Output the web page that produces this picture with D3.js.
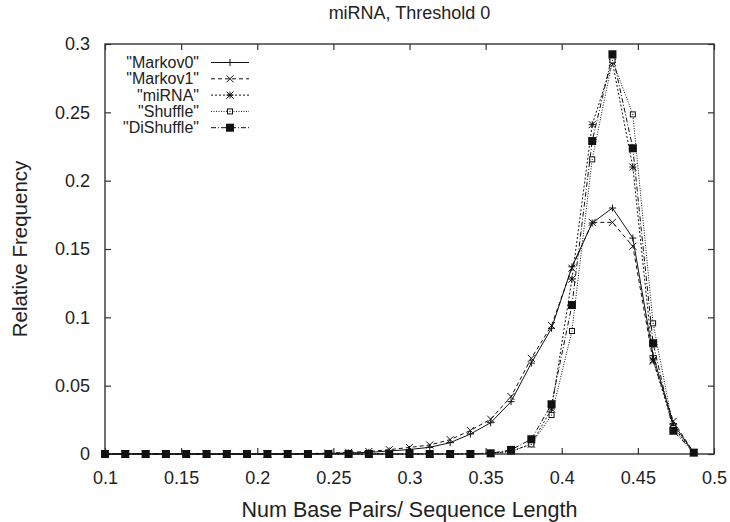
<!DOCTYPE html>
<html>
<head>
<meta charset="utf-8">
<script src="https://cdn.jsdelivr.net/npm/d3@7"></script>
<style>
  body { margin: 0; background: #fff; }
  svg { font-family: "Liberation Sans", Arial, sans-serif; }
</style>
</head>
<body>
<div id="chart"></div>
<script>
// bin centres (num base pairs / sequence length)
const xValues = [0.1000, 0.1133, 0.1267, 0.1400, 0.1533, 0.1667, 0.1800, 0.1933, 0.2067, 0.2200,
                 0.2333, 0.2467, 0.2600, 0.2733, 0.2867, 0.3000, 0.3133, 0.3267, 0.3400, 0.3533,
                 0.3667, 0.3800, 0.3933, 0.4067, 0.4200, 0.4333, 0.4467, 0.4600, 0.4733, 0.4867];

const markov0 = [0, 0, 0, 0, 0, 0, 0, 0, 0, 0,
                 0.0002, 0.0004, 0.0008, 0.0012, 0.0022, 0.0033, 0.0049, 0.0083, 0.0146, 0.0229,
                 0.0383, 0.0665, 0.092, 0.137, 0.169, 0.180, 0.158, 0.072, 0.022, 0.001];
const markov1 = [0, 0, 0, 0, 0, 0, 0, 0, 0, 0,
                 0.0003, 0.0006, 0.0012, 0.0018, 0.0032, 0.0048, 0.0066, 0.0105, 0.0172, 0.0255,
                 0.042, 0.070, 0.094, 0.136, 0.1695, 0.1695, 0.152, 0.068, 0.024, 0.001];
const mirna = [0, 0, 0, 0, 0, 0, 0, 0, 0, 0,
               0, 0, 0, 0, 0, 0, 0, 0, 0.0002, 0.0006,
               0.002, 0.0073, 0.033, 0.128, 0.241, 0.2866, 0.210, 0.0688, 0.020, 0.001];
const shuffle = [0, 0, 0, 0, 0, 0, 0, 0, 0, 0,
                 0, 0, 0, 0, 0, 0, 0, 0, 0, 0.0004,
                 0.0018, 0.007, 0.0285, 0.090, 0.2156, 0.288, 0.2485, 0.0956, 0.019, 0.001];
const diShuffle = [0, 0, 0, 0, 0, 0, 0, 0, 0, 0,
                   0, 0, 0, 0, 0, 0, 0, 0, 0, 0.0005,
                   0.003, 0.0108, 0.0364, 0.109, 0.229, 0.2925, 0.2237, 0.081, 0.017, 0.001];

const xTicks = [0.1, 0.15, 0.2, 0.25, 0.3, 0.35, 0.4, 0.45, 0.5];
const yTicks = [0, 0.05, 0.1, 0.15, 0.2, 0.25, 0.3];

const series = [
  { name: '"Markov0"', values: markov0, dash: null, marker: "plus" },
  { name: '"Markov1"', values: markov1, dash: "4,3", marker: "cross" },
  { name: '"miRNA"', values: mirna, dash: "2,2", marker: "star" },
  { name: '"Shuffle"', values: shuffle, dash: "1,1.5", marker: "box" },
  { name: '"DiShuffle"', values: diShuffle, dash: "5,2,1,2", marker: "fbox" }
];

const width = 730, height = 522;
const margin = { top: 44, right: 16, bottom: 68, left: 105 };
const plotW = width - margin.left - margin.right;
const plotH = height - margin.top - margin.bottom;

const svg = d3.select("#chart").append("svg")
  .attr("width", width)
  .attr("height", height);

const x = d3.scaleLinear().domain([0.1, 0.5]).range([0, plotW]);
const y = d3.scaleLinear().domain([0, 0.3]).range([plotH, 0]);

const g = svg.append("g").attr("transform", `translate(${margin.left},${margin.top})`);

const frameColor = "#333";
const tickLen = 6;

// axes with inward ticks on all sides (gnuplot mirror style)
const xAxis = g.append("g").attr("transform", `translate(0,${plotH})`)
  .call(d3.axisBottom(x).tickValues(xTicks).tickFormat(d3.format("")).tickSize(-tickLen).tickPadding(17));
const xAxisTop = g.append("g")
  .call(d3.axisTop(x).tickValues(xTicks).tickFormat("").tickSize(-tickLen));
const yAxis = g.append("g")
  .call(d3.axisLeft(y).tickValues(yTicks).tickFormat(d3.format("")).tickSize(-tickLen).tickPadding(15));
const yAxisRight = g.append("g").attr("transform", `translate(${plotW},0)`)
  .call(d3.axisRight(y).tickValues(yTicks).tickFormat("").tickSize(-tickLen));

[xAxis, xAxisTop, yAxis, yAxisRight].forEach(a => {
  a.select(".domain").remove();
  a.selectAll(".tick line").attr("stroke", frameColor).attr("stroke-width", 1.2);
  a.selectAll(".tick text").attr("fill", "#222").style("font-size", "18px");
});

g.append("rect")
  .attr("width", plotW).attr("height", plotH)
  .attr("fill", "none").attr("stroke", frameColor).attr("stroke-width", 1.4);

// lines
const line = d3.line()
  .x((d, i) => x(xValues[i]))
  .y(d => y(d));

function drawMarker(sel, type, s) {
  const h = s / 2;
  if (type === "plus") {
    sel.append("path").attr("d", `M${-h},0H${h}M0,${-h}V${h}`)
      .attr("stroke", "#111").attr("stroke-width", 1).attr("fill", "none");
  } else if (type === "cross") {
    sel.append("path").attr("d", `M${-h},${-h}L${h},${h}M${-h},${h}L${h},${-h}`)
      .attr("stroke", "#111").attr("stroke-width", 1).attr("fill", "none");
  } else if (type === "star") {
    sel.append("path").attr("d", `M${-h},0H${h}M0,${-h}V${h}M${-h},${-h}L${h},${h}M${-h},${h}L${h},${-h}`)
      .attr("stroke", "#111").attr("stroke-width", 1).attr("fill", "none");
  } else if (type === "box") {
    sel.append("rect").attr("x", -h + 1).attr("y", -h + 1).attr("width", s - 2).attr("height", s - 2)
      .attr("stroke", "#111").attr("stroke-width", 1).attr("fill", "#fff");
    sel.append("circle").attr("r", 0.6).attr("fill", "#111");
  } else if (type === "fbox") {
    sel.append("rect").attr("x", -h).attr("y", -h).attr("width", s).attr("height", s)
      .attr("fill", "#111");
  }
}

const markerSize = 7;

series.forEach(s => {
  g.append("path")
    .datum(s.values)
    .attr("d", line)
    .attr("fill", "none")
    .attr("stroke", "#111")
    .attr("stroke-width", 1)
    .attr("stroke-dasharray", s.dash);
});

series.forEach(s => {
  const pts = g.append("g").selectAll("g")
    .data(s.values)
    .join("g")
    .attr("transform", (d, i) => `translate(${x(xValues[i])},${y(d)})`);
  pts.each(function() { drawMarker(d3.select(this), s.marker, s.marker === "fbox" ? 8 : markerSize); });
});

// legend
const legend = svg.append("g").attr("transform", "translate(199,62.5)");
series.forEach((s, i) => {
  const row = legend.append("g").attr("transform", `translate(0,${i * 16.3})`);
  row.append("text")
    .attr("x", 0).attr("dy", "0.35em")
    .attr("text-anchor", "end")
    .style("font-size", "16px")
    .attr("fill", "#222")
    .text(s.name);
  row.append("line")
    .attr("x1", 12).attr("x2", 50)
    .attr("stroke", "#111").attr("stroke-width", 1)
    .attr("stroke-dasharray", s.dash);
  const m = row.append("g").attr("transform", "translate(31,0)");
  drawMarker(m, s.marker, s.marker === "fbox" ? 8 : markerSize);
});

// titles
svg.append("text")
  .attr("x", margin.left + plotW / 2).attr("y", 19)
  .attr("text-anchor", "middle")
  .style("font-size", "18px").attr("fill", "#222")
  .text("miRNA, Threshold 0");

svg.append("text")
  .attr("x", margin.left + plotW / 2).attr("y", 517)
  .attr("text-anchor", "middle")
  .style("font-size", "21.5px").attr("fill", "#222")
  .text("Num Base Pairs/ Sequence Length");

svg.append("text")
  .attr("transform", `translate(27,${margin.top + plotH / 2}) rotate(-90)`)
  .attr("text-anchor", "middle")
  .style("font-size", "20.5px").attr("fill", "#222")
  .text("Relative Frequency");
</script>
</body>
</html>
